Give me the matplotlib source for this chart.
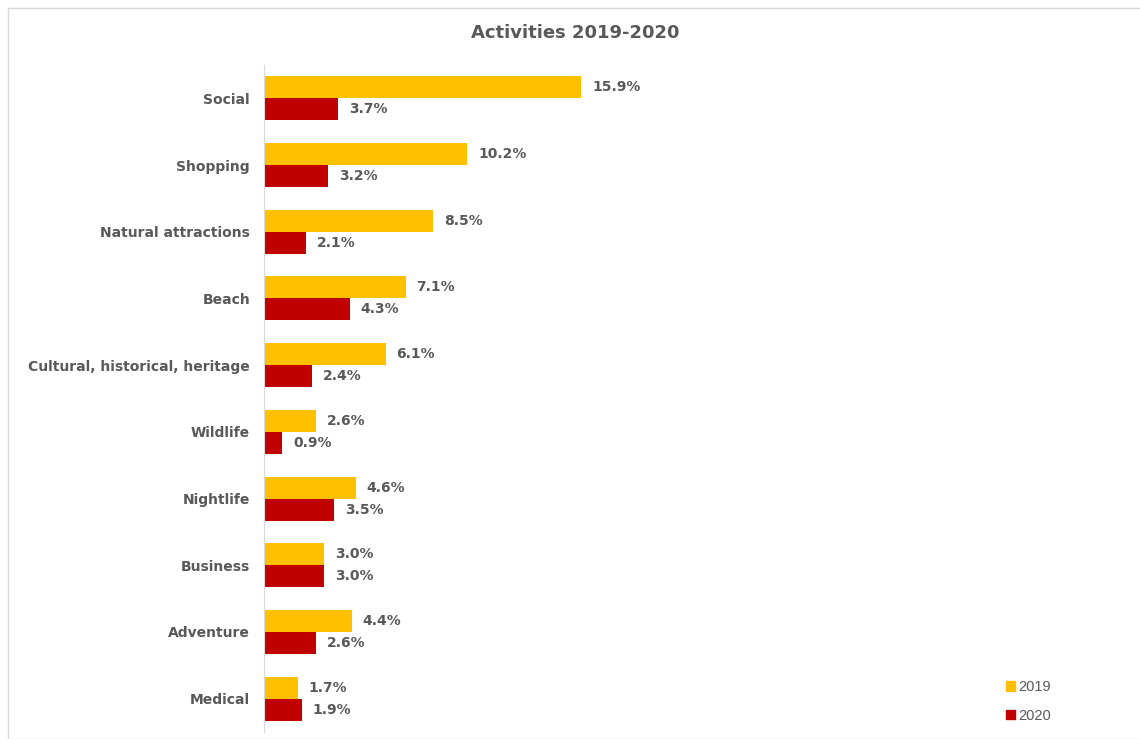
import matplotlib.pyplot as plt
import matplotlib.patches as mpatches
import numpy as np

# --- data ---
categories = ['Social', 'Shopping', 'Natural attractions', 'Beach',
              'Cultural, historical, heritage', 'Wildlife', 'Nightlife',
              'Business', 'Adventure', 'Medical']
values_2019 = [15.9, 10.2, 8.5, 7.1, 6.1, 2.6, 4.6, 3.0, 4.4, 1.7]
values_2020 = [3.7, 3.2, 2.1, 4.3, 2.4, 0.9, 3.5, 3.0, 2.6, 1.9]
series_names = ['2019', '2020']

COL_2019 = '#FFC000'
COL_2020 = '#C00000'
TXT = '#595959'
FONT = 'DejaVu Sans'

W, H = 1140, 739
fig = plt.figure(figsize=(W / 100, H / 100), dpi=100)

# light frame around the chart area
fig.patches.append(mpatches.Rectangle((8 / W, 0), 1.2, 1 - 8 / H, transform=fig.transFigure,
                                      fill=False, edgecolor='#D9D9D9', lw=1))

ax_left, ax_top, ax_bot, ax_w = 264, 65, 732, 700
ax = fig.add_axes([ax_left / W, 1 - ax_bot / H, ax_w / W, (ax_bot - ax_top) / H])

y = np.arange(len(categories))
h = 0.33
ax.barh(y - h / 2, values_2019, height=h, color=COL_2019, label=series_names[0])
ax.barh(y + h / 2, values_2020, height=h, color=COL_2020, label=series_names[1])

for yi, v in zip(y, values_2019):
    ax.text(v + 0.55, yi - h / 2, f'{v:.1f}%', va='center', ha='left',
            fontsize=10, fontweight='bold', color=TXT, family=FONT)
for yi, v in zip(y, values_2020):
    ax.text(v + 0.55, yi + h / 2, f'{v:.1f}%', va='center', ha='left',
            fontsize=10, fontweight='bold', color=TXT, family=FONT)

ax.set_ylim(len(categories) - 0.5, -0.5)
ax.set_xlim(0, ax_w / 19.94)
ax.set_yticks(y)
ax.set_yticklabels(categories, fontsize=10, fontweight='bold', color=TXT, family=FONT)
ax.tick_params(axis='y', length=0, pad=10)
ax.set_xticks([])
for s in ['top', 'right', 'bottom']:
    ax.spines[s].set_visible(False)
ax.spines['left'].set_color('#D9D9D9')

fig.text(575 / W, 1 - 33 / H, 'Activities 2019-2020', ha='center', va='center',
         fontsize=13, fontweight='bold', color=TXT, family=FONT)

handles = [mpatches.Patch(color=COL_2019), mpatches.Patch(color=COL_2020)]
fig.legend(handles, series_names, loc='upper left', bbox_to_anchor=(993 / W, 1 - 667 / H),
           frameon=False, handlelength=0.6, handleheight=0.6, handletextpad=0.2,
           labelspacing=1.0, prop={'size': 10.5, 'family': 'Liberation Sans'}, labelcolor=TXT)

fig.savefig('out.png', dpi=100)
